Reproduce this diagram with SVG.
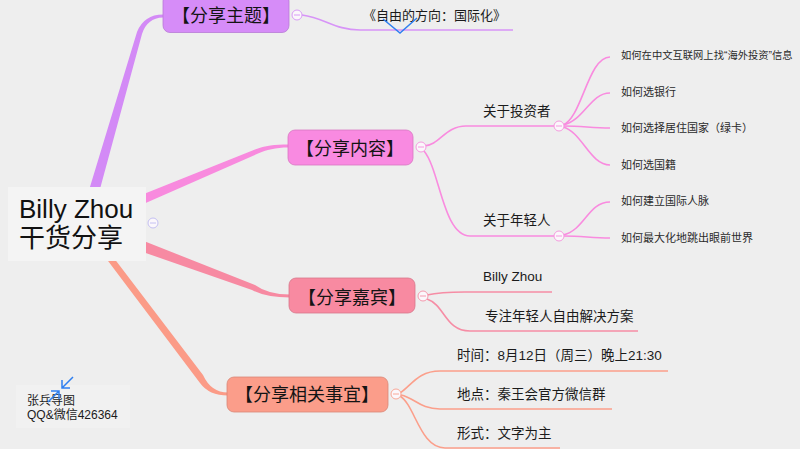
<svg xmlns="http://www.w3.org/2000/svg" width="800" height="449" viewBox="0 0 800 449">
<defs>
<style>
text{font-family:"Liberation Sans","Noto Sans CJK SC",sans-serif;fill:#1b1b1b}
.main{font-size:18px;text-anchor:middle;fill:#141414}
.sub{font-size:13.5px}
.leaf{font-size:11px;fill:#2a2a2a}
.line{fill:none;stroke-width:1.6}
.pu{stroke:#d794f7}
.pk{stroke:#f98bdf}
.rd{stroke:#f68da5}
.sa{stroke:#fb9f8b}
.tog circle{fill:#fbf7fb;stroke-width:1}
.tog line{stroke-width:1}
.blue{fill:none;stroke:#2f7ff0;stroke-width:1.5}
</style>
</defs>
<rect width="800" height="449" fill="#eeeeee"/>

<g id="connectors">
  <path d="M86,200 L137,32 Q144,14.5 163,14.5 L163,17.5 Q147,18 142,34 L97,200 Z" fill="#d38af6"/>
  <path d="M140,195.5 L255,149.5 C265,145.5 275,144.5 288,144.5 L288,147.5 C276,147.5 266,150 258,153.5 L140,205.5 Z" fill="#f88ade"/>
  <path d="M140,239.5 L255,285 Q268,294.5 290,294.5 L290,297.5 Q266,297.5 252,290 L140,251 Z" fill="#f78aa2"/>
  <path d="M104,245 L203,375 Q211,392.5 228,392.5 L228,395.5 Q209,395.5 200,383 L96,245 Z" fill="#fb9b87"/>

  <path class="line pu" d="M302,15 C325,18 335,30 360,30 H513"/>
  <path class="line pk" d="M424,146 C440,145 445,126 466,126 H554"/>
  <path class="line pk" d="M424,151 C440,170 443,236 470,236 H554"/>
  <path class="line pk" d="M563,125 C582,118 588,57 610,57"/>
  <path class="line pk" d="M563,125 C585,120 590,93 610,93"/>
  <path class="line pk" d="M564,126 C582,126 592,128 610,128"/>
  <path class="line pk" d="M563,127 C582,132 590,165 610,165"/>
  <path class="line pk" d="M563,235 C585,230 588,202 610,202"/>
  <path class="line pk" d="M564,236 C582,236 592,238 610,238"/>
  <path class="line rd" d="M427,295 C440,292 450,292 465,292 H552"/>
  <path class="line rd" d="M427,299 C445,305 445,331 470,331 H638"/>
  <path class="line sa" d="M400,393 C412,385 418,371 440,371 H668"/>
  <path class="line sa" d="M401,395 C415,398 420,409 440,409 H612"/>
  <path class="line sa" d="M400,396 C415,405 420,448 445,448 H560"/>
</g>

<g id="root">
  <rect x="8" y="187" width="138" height="74" fill="#f4f4f4"/>
  <text x="19" y="218" style="font-size:26px;fill:#111">Billy Zhou</text>
  <text x="19" y="247" style="font-size:26px;fill:#111">干货分享</text>
  <g class="tog"><circle cx="153" cy="223" r="5" style="stroke:#c4c0f2"/><line x1="150" y1="223" x2="156" y2="223" style="stroke:#c4c0f2"/></g>
</g>

<g id="node-theme">
  <rect x="163" y="-6" width="126" height="38.5" rx="7" fill="#d68cf8" stroke="#b87ad6" stroke-width="0.8"/>
  <text class="main" x="226" y="22">【分享主题】</text>
  <g class="tog"><circle cx="297" cy="15" r="5" style="stroke:#d99cf6"/><line x1="294" y1="15" x2="300" y2="15" style="stroke:#d99cf6"/></g>
</g>
<g id="leaf-theme">
  <text x="363" y="20" style="font-size:13px">《自由的方向：国际化》</text>
</g>

<g id="node-content">
  <rect x="288" y="130" width="125" height="35" rx="7" fill="#f98ae1" stroke="#d877c2" stroke-width="0.8"/>
  <text class="main" x="350" y="155">【分享内容】</text>
  <g class="tog"><circle cx="421" cy="147" r="5" style="stroke:#f59adf"/><line x1="418" y1="147" x2="424" y2="147" style="stroke:#f59adf"/></g>
</g>
<g id="node-investor">
  <text class="sub" x="483" y="116">关于投资者</text>
  <g class="tog"><circle cx="559" cy="126" r="5" style="stroke:#f59adf"/><line x1="556" y1="126" x2="562" y2="126" style="stroke:#f59adf"/></g>
</g>
<g id="leaf-i1"><text class="leaf" x="621" y="59" style="font-size:10.3px">如何在中文互联网上找“海外投资”信息</text></g>
<g id="leaf-i2"><text class="leaf" x="621" y="96">如何选银行</text></g>
<g id="leaf-i3"><text class="leaf" x="621" y="132">如何选择居住国家（绿卡）</text></g>
<g id="leaf-i4"><text class="leaf" x="621" y="169">如何选国籍</text></g>
<g id="node-youth">
  <text class="sub" x="483" y="225">关于年轻人</text>
  <g class="tog"><circle cx="559" cy="236" r="5" style="stroke:#f59adf"/><line x1="556" y1="236" x2="562" y2="236" style="stroke:#f59adf"/></g>
</g>
<g id="leaf-y1"><text class="leaf" x="621" y="205">如何建立国际人脉</text></g>
<g id="leaf-y2"><text class="leaf" x="621" y="242">如何最大化地跳出眼前世界</text></g>

<g id="node-guest">
  <rect x="289" y="278" width="126" height="35" rx="7" fill="#f88aa1" stroke="#d7778b" stroke-width="0.8"/>
  <text class="main" x="352" y="304">【分享嘉宾】</text>
  <g class="tog"><circle cx="423" cy="296" r="5" style="stroke:#f49aae"/><line x1="420" y1="296" x2="426" y2="296" style="stroke:#f49aae"/></g>
</g>
<g id="leaf-g1"><text class="sub" x="483" y="281">Billy Zhou</text></g>
<g id="leaf-g2"><text class="sub" x="485" y="321">专注年轻人自由解决方案</text></g>

<g id="node-affairs">
  <rect x="227" y="377" width="161" height="35" rx="7" fill="#fb9d8a" stroke="#d98676" stroke-width="0.8"/>
  <text class="main" x="307" y="401">【分享相关事宜】</text>
  <g class="tog"><circle cx="396" cy="394" r="5" style="stroke:#f9a898"/><line x1="393" y1="394" x2="399" y2="394" style="stroke:#f9a898"/></g>
</g>
<g id="leaf-a1"><text class="sub" x="457" y="360">时间：8月12日（周三）晚上21:30</text></g>
<g id="leaf-a2"><text class="sub" x="457" y="399">地点：秦王会官方微信群</text></g>
<g id="leaf-a3"><text class="sub" x="457" y="438">形式：文字为主</text></g>

<g id="watermark">
  <rect x="16" y="385" width="114" height="43" fill="#f1f1f1"/>
  <text x="27" y="405" style="font-size:12px">张兵导图</text>
  <text x="27" y="419" style="font-size:12px">QQ&amp;微信426364</text>
</g>

<g id="markers">
  <path class="blue" d="M383,19 L400,33 L417,18"/>
  <path class="blue" d="M73,377 L62,388 M62,380 L62,388 L70,388"/>
  <path class="blue" d="M48,402 L59,391 M51,391 L59,391 L59,399"/>
</g>
</svg>
